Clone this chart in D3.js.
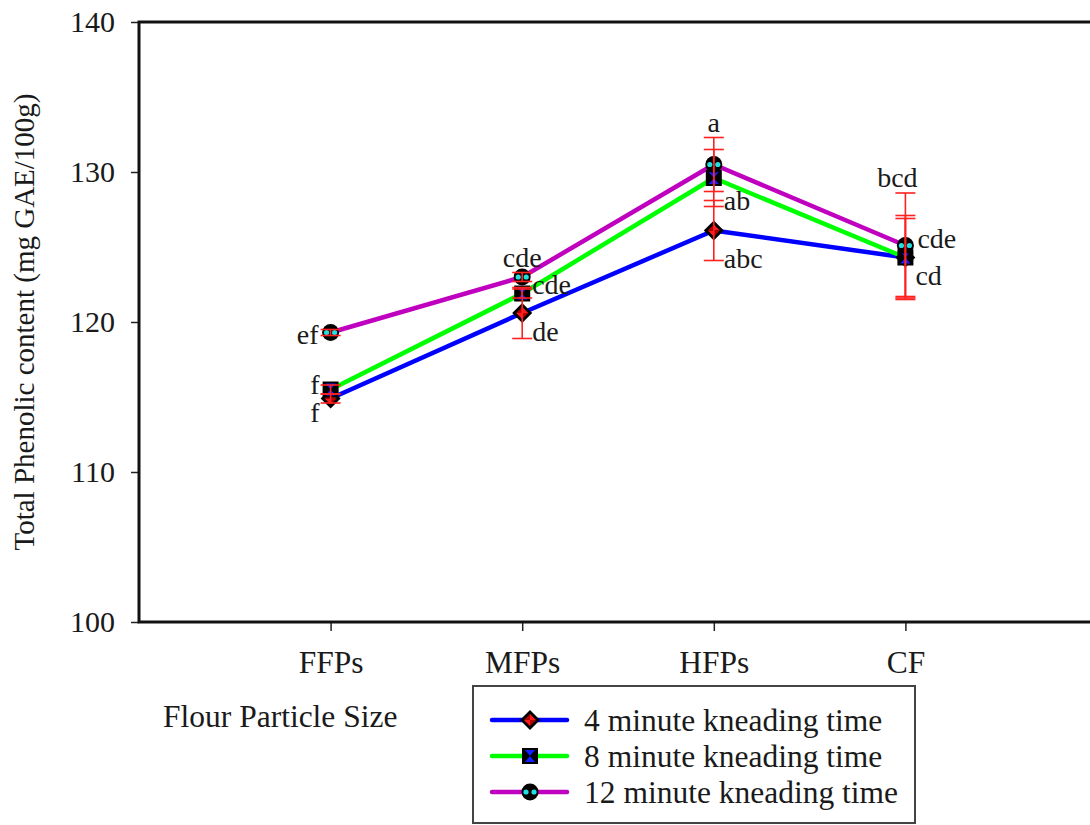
<!DOCTYPE html>
<html>
<head>
<meta charset="utf-8">
<script src="https://cdn.jsdelivr.net/npm/d3@7"></script>
<style>
  html, body { margin: 0; padding: 0; background: #fff; }
  svg { display: block; }
  text { font-family: "Liberation Serif", "Times New Roman", serif; fill: #1a1a1a; }
</style>
</head>
<body>
<svg id="chart" width="1090" height="825"></svg>
<script>
// Flour particle size categories (x axis)
const categories = ["FFPs", "MFPs", "HFPs", "CF"];
const yTicks = [100, 110, 120, 130, 140];

// Total phenolic content (mg GAE/100g) per kneading time
const series4min  = [114.9, 120.6, 126.1, 124.3];
const series8min  = [115.5, 121.9, 129.6, 124.3];
const series12min = [119.3, 123.0, 130.5, 125.1];

// Standard deviations
const err4min  = [0.3, 1.7, 2.0, 2.6];
const err8min  = [0.3, 0.3, 1.9, 2.8];
const err12min = [0.2, 0.3, 1.8, 3.5];

// Significance letters
const letters4min  = ["f", "de", "abc", "cd"];
const letters8min  = ["f", "cde", "ab", "cde"];
const letters12min = ["ef", "cde", "a", "bcd"];

const seriesNames = ["4 minute kneading time", "8 minute kneading time", "12 minute kneading time"];

const series = [
  { name: seriesNames[0], values: series4min,  errors: err4min,  letters: letters4min,  color: "#0000ff", marker: "diamond" },
  { name: seriesNames[1], values: series8min,  errors: err8min,  letters: letters8min,  color: "#00ff00", marker: "square" },
  { name: seriesNames[2], values: series12min, errors: err12min, letters: letters12min, color: "#bf00bf", marker: "circle" }
];

// letter placement around each point: [dx, dy, anchor]
const letterPlacement = [
  [[-11, 14, "end"], [10, 18, "start"], [10, 28, "start"], [10, 18, "start"]],
  [[-11, -5, "end"], [10, -9, "start"], [10, 22, "start"], [12, -19, "start"]],
  [[-12, 2, "end"], [0, -20, "middle"], [0, -42, "middle"], [-8, -68, "middle"]]
];

const svg = d3.select("#chart");
const plotLeft = 139, plotRight = 1097, plotTop = 22, plotBottom = 622;

const x = d3.scaleLinear().domain([0, 5]).range([plotLeft, plotRight]);
const y = d3.scaleLinear().domain([100, 140]).range([plotBottom, plotTop]);

// Axes
const yAxis = d3.axisLeft(y).tickValues(yTicks).tickSize(8).tickPadding(16).tickFormat(d3.format("d"));
const gy = svg.append("g").attr("transform", `translate(${plotLeft},0)`).call(yAxis);
gy.select(".domain").remove();
gy.selectAll(".tick line").attr("stroke", "#222").attr("stroke-width", 1.5);
gy.selectAll(".tick text").attr("font-size", 30).attr("font-family", "Liberation Serif").attr("fill", "#1a1a1a");

const xAxis = d3.axisBottom(x).tickValues([1, 2, 3, 4]).tickSize(9).tickPadding(20)
  .tickFormat(i => categories[i - 1]);
const gx = svg.append("g").attr("transform", `translate(0,${plotBottom})`).call(xAxis);
gx.select(".domain").remove();
gx.selectAll(".tick line").attr("stroke", "#222").attr("stroke-width", 1.5);
gx.selectAll(".tick text").attr("font-size", 31.5).attr("font-family", "Liberation Serif").attr("fill", "#1a1a1a");

// Frame (left, top, bottom)
svg.append("path")
  .attr("d", `M${plotRight},${plotTop}H${plotLeft}V${plotBottom}H${plotRight}`)
  .attr("fill", "none").attr("stroke", "#111").attr("stroke-width", 3);

// Axis titles
svg.append("text")
  .attr("transform", `translate(34,${(plotTop + plotBottom) / 2}) rotate(-90)`)
  .attr("text-anchor", "middle").attr("font-size", 29)
  .text("Total Phenolic content (mg GAE/100g)");

svg.append("text")
  .attr("x", 163).attr("y", 727).attr("font-size", 31.5)
  .text("Flour Particle Size");

// Markers
function drawMarker(g, type) {
  if (type === "diamond") {
    g.append("path").attr("d", "M0,-10L10,0L0,10L-10,0Z").attr("fill", "#000");
    g.append("path").attr("d", "M0,-6L6,0L0,0Z M0,6L-6,0L0,0Z").attr("fill", "#ff1a1a");
    g.append("path").attr("d", "M-6,0L0,-6L0,0Z M6,0L0,6L0,0Z").attr("fill", "#b00000");
  } else if (type === "square") {
    g.append("rect").attr("x", -8).attr("y", -8).attr("width", 16).attr("height", 16).attr("fill", "#000");
    g.append("path").attr("d", "M-5,-6L5,-6L0,0Z M-5,6L5,6L0,0Z").attr("fill", "#1020ff");
  } else {
    g.append("circle").attr("r", 8.5).attr("fill", "#000");
    g.append("circle").attr("cx", -4).attr("r", 2.6).attr("fill", "#20e0e0");
    g.append("circle").attr("cx", 4).attr("r", 2.6).attr("fill", "#20e0e0");
  }
}

const line = d3.line().x((d, i) => x(i + 1)).y(d => y(d));

// Lines
series.forEach(s => {
  svg.append("path").datum(s.values)
    .attr("d", line).attr("fill", "none")
    .attr("stroke", s.color).attr("stroke-width", 4.5)
    .attr("stroke-linejoin", "round");
});

// Markers
series.forEach(s => {
  s.values.forEach((v, i) => {
    const g = svg.append("g").attr("transform", `translate(${x(i + 1)},${y(v)})`);
    drawMarker(g, s.marker);
  });
});

// Error bars
series.forEach(s => {
  s.values.forEach((v, i) => {
    const cx = x(i + 1), e = s.errors[i];
    const g = svg.append("g").attr("stroke", "#ff2020").attr("stroke-width", 1.6);
    g.append("line").attr("x1", cx).attr("x2", cx).attr("y1", y(v + e)).attr("y2", y(v - e));
    [v + e, v - e].forEach(t => {
      g.append("line").attr("x1", cx - 10).attr("x2", cx + 10).attr("y1", y(t)).attr("y2", y(t));
    });
  });
});

// Significance letters
series.forEach((s, si) => {
  s.values.forEach((v, i) => {
    const p = letterPlacement[si][i];
    svg.append("text")
      .attr("x", x(i + 1) + p[0]).attr("y", y(v) + p[1])
      .attr("dy", "0.35em").attr("text-anchor", p[2])
      .attr("font-size", 28)
      .text(s.letters[i]);
  });
});

// Legend
const legend = svg.append("g");
legend.append("rect").attr("x", 473).attr("y", 686).attr("width", 442).attr("height", 137)
  .attr("fill", "#fff").attr("stroke", "#444").attr("stroke-width", 2);
series.forEach((s, i) => {
  const ly = 720 + i * 36;
  legend.append("line").attr("x1", 492).attr("x2", 567).attr("y1", ly).attr("y2", ly)
    .attr("stroke", s.color).attr("stroke-width", 4.5).attr("stroke-linecap", "round");
  drawMarker(legend.append("g").attr("transform", `translate(530,${ly})`), s.marker);
  legend.append("text").attr("x", 584).attr("y", ly).attr("dy", "0.35em")
    .attr("font-size", 31.5).text(s.name);
});
</script>
</body>
</html>
